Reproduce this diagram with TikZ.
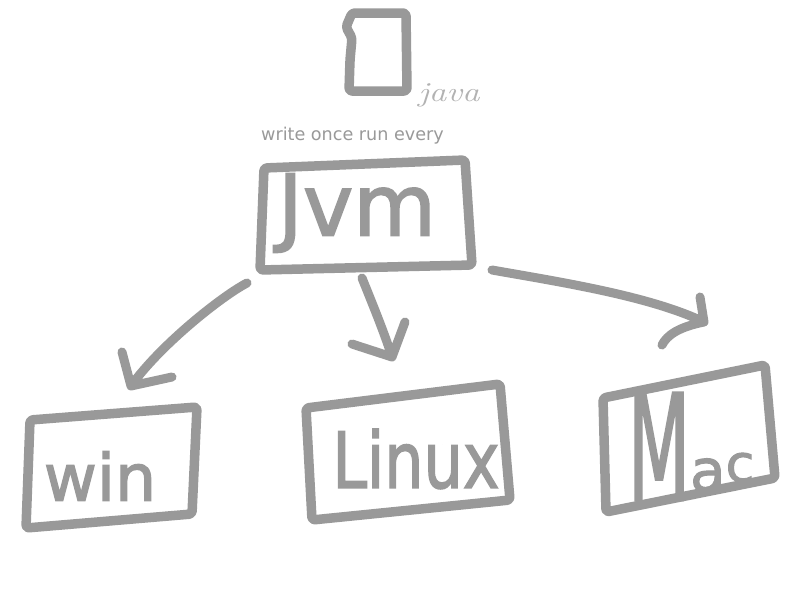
\documentclass[tikz,border=0pt]{standalone}
\usepackage{fontspec}
\setmainfont{DejaVu Sans}
\newfontfamily\lmr{Latin Modern Roman}
\newfontfamily\handfont[FakeBold=2]{DejaVu Sans}
\usetikzlibrary{arrows.meta}
\definecolor{pen}{RGB}{153,153,153}
\definecolor{penlight}{RGB}{178,178,178}
\begin{document}
\begin{tikzpicture}[x=1pt,y=-1pt,
  stroke/.style={draw=pen,line width=9.5pt,line cap=round,line join=round,rounded corners=3pt},
  arr/.style={draw=pen,line width=9pt,line cap=round,line join=round},
  hand/.style={text=pen,inner sep=0pt,outer sep=0pt,font=\handfont},
]
\fill[white] (0,0) rectangle (800,600);
\useasboundingbox (0,0) rectangle (800,600);

% java document icon
\draw[stroke] (352,13) -- (406,13) -- (407,91) -- (349,91) -- (350,60) -- (352,38) -- (346,27) -- cycle;
\node[inner sep=0pt,text=penlight] (javalbl) at (449,95) {\scalebox{1.4}[1.1]{\fontsize{25}{25}\selectfont\lmr\itshape java}};
\node[inner sep=0pt,text=pen] (motto) at (352.5,136) {\fontsize{17.6}{20}\selectfont write once run every};

% boxes
\draw[stroke] (264,168) -- (465,160) -- (472,265) -- (260,270) -- cycle;
\draw[stroke] (30,420) -- (197,407) -- (192,514) -- (26,528) -- cycle;
\draw[stroke] (306,408) -- (500,384) -- (510,500) -- (312,520) -- cycle;
\draw[stroke] (603,398) -- (765,365) -- (775,478) -- (606,512) -- cycle;

% labels
\node[hand] (jvm) at (357,213) {\fontsize{85}{85}\selectfont Jvm};
\node[hand] (win) at (100,476) {\fontsize{65}{65}\selectfont win};
\node[hand] (linux) at (416,459) {\scalebox{1}[1.25]{\fontsize{62}{62}\selectfont Linux}};
\node[hand,anchor=base west] (mac) at (628,500) {\scalebox{0.5}[1.02]{\fontsize{144}{144}\selectfont M}\raisebox{9pt}{\fontsize{58}{58}\selectfont a}\raisebox{18pt}{\fontsize{52}{52}\selectfont c}};

% connector ends
\coordinate (j1) at (247,283);
\coordinate (w1) at (131,386);
\coordinate (j2) at (362,278);
\coordinate (l1) at (392,357);
\coordinate (j3) at (492,270);
\coordinate (m1) at (704,322);

\draw[arr] (j1) .. controls (222,296) and (160,345) .. (w1) -- +(-9,-34) (w1) -- +(41,-9);
\draw[arr] (j2) .. controls (375,310) and (385,335) .. (l1) -- +(-40,-13) (l1) -- +(13,-35);
\draw[arr] (j3) .. controls (560,282) and (650,296) .. (m1) -- +(-4,-25) (m1) .. controls +(-25,5) and +(5,-10) .. +(-42,23);
\end{tikzpicture}
\end{document}
